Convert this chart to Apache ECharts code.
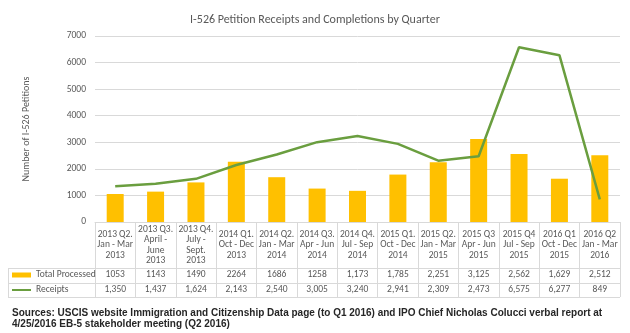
<!DOCTYPE html>
<html>
<head>
<meta charset="utf-8">
<script src="https://cdn.jsdelivr.net/npm/echarts@6/dist/echarts.min.js"></script>
<style>
  html, body { margin: 0; padding: 0; background: #fff; }
  #chart { width: 630px; height: 333px; }
</style>
</head>
<body>
<div id="chart"></div>
<script>
// Quarter headings shown in the data table under the plot
const quarters = [
  '2013 Q2.\nJan - Mar\n2013',
  '2013 Q3.\nApril -\nJune\n2013',
  '2013 Q4.\nJuly -\nSept.\n2013',
  '2014 Q1.\nOct - Dec\n2013',
  '2014 Q2.\nJan - Mar\n2014',
  '2014 Q3.\nApr - Jun\n2014',
  '2014 Q4.\nJul - Sep\n2014',
  '2015 Q1.\nOct - Dec\n2014',
  '2015 Q2.\nJan - Mar\n2015',
  '2015 Q3\nApr - Jun\n2015',
  '2015 Q4\nJul - Sep\n2015',
  '2016 Q1\nOct - Dec\n2015',
  '2016 Q2\nJan - Mar\n2016'
];

// Table cells as printed; the plotted values are parsed from them
const processedText = ['1053', '1143', '1490', '2264', '1686', '1258', '1,173', '1,785', '2,251', '3,125', '2,562', '1,629', '2,512'];
const receiptsText = ['1,350', '1,437', '1,624', '2,143', '2,540', '3,005', '3,240', '2,941', '2,309', '2,473', '6,575', '6,277', '849'];

const toNumber = s => Number(s.replace(/,/g, ''));
const totalProcessed = processedText.map(toNumber);
const receipts = receiptsText.map(toNumber);

const yTicks = { min: 0, max: 7000, interval: 1000 };

const GRID_L = 95, GRID_R = 10, GRID_T = 36, GRID_B = 111;
const TEXT = '#595959';
const RULE = '#d9d9d9';
const BODY = 'Carlito, Calibri, "Liberation Sans", sans-serif';
const tableFont = { fontFamily: BODY, fontSize: 9.5, color: TEXT };

const chart = echarts.init(document.getElementById('chart'), null, { renderer: 'canvas' });

chart.setOption({
  animation: false,
  backgroundColor: '#fff',
  title: [
    {
      text: 'I-526 Petition Receipts and Completions by Quarter',
      left: 'center',
      top: 9,
      textStyle: { fontFamily: BODY, fontSize: 12, fontWeight: 'normal', color: TEXT }
    },
    {
      text: 'Sources: USCIS website Immigration and Citizenship Data page (to Q1 2016) and IPO Chief Nicholas Colucci verbal report at\n4/25/2016 EB-5 stakeholder meeting (Q2 2016)',
      left: 7,
      top: 302,
      textStyle: { fontFamily: 'Liberation Sans, Arial, sans-serif', fontSize: 10, fontWeight: 'bold', color: '#262626', lineHeight: 11.5 }
    }
  ],
  legend: [
    {
      data: [{ name: 'Total Processed', icon: 'rect' }],
      left: 12, top: 270, padding: 0,
      itemWidth: 19, itemHeight: 5, itemGap: 4,
      selectedMode: false,
      textStyle: { fontFamily: BODY, fontSize: 9.5, color: TEXT }
    },
    {
      data: [{ name: 'Receipts', icon: 'rect' }],
      left: 12, top: 285, padding: 0,
      itemWidth: 19, itemHeight: 2, itemGap: 4,
      selectedMode: false,
      textStyle: { fontFamily: BODY, fontSize: 9.5, color: TEXT }
    }
  ],
  grid: { left: GRID_L, right: GRID_R, top: GRID_T, bottom: GRID_B, containLabel: false },
  xAxis: [
    {
      // quarter headings; boundary ticks double as the table's column rules
      type: 'category',
      data: quarters,
      position: 'bottom',
      axisLine: { show: true, lineStyle: { color: RULE, width: 1 } },
      axisTick: { show: true, length: 75, alignWithLabel: false, lineStyle: { color: RULE, width: 1 } },
      axisLabel: { ...tableFont, interval: 0, margin: 23, verticalAlign: 'middle', lineHeight: 10.5, align: 'center' }
    },
    {
      type: 'category',
      data: processedText,
      position: 'bottom',
      axisLine: { show: false },
      axisTick: { show: false },
      axisLabel: { ...tableFont, interval: 0, margin: 53, verticalAlign: 'middle' }
    },
    {
      type: 'category',
      data: receiptsText,
      position: 'bottom',
      axisLine: { show: false },
      axisTick: { show: false },
      axisLabel: { ...tableFont, interval: 0, margin: 68, verticalAlign: 'middle' }
    }
  ],
  yAxis: {
    type: 'value',
    min: yTicks.min,
    max: yTicks.max,
    interval: yTicks.interval,
    name: 'Number of I-526 Petitions',
    nameLocation: 'middle',
    nameGap: 64,
    nameRotate: 90,
    nameTextStyle: { fontFamily: BODY, fontSize: 10, color: TEXT },
    axisLine: { show: false },
    axisTick: { show: false },
    axisLabel: { fontFamily: BODY, fontSize: 9.5, color: TEXT, margin: 9, formatter: v => String(v) },
    splitLine: { lineStyle: { color: RULE, width: 1 } }
  },
  series: [
    {
      name: 'Total Processed',
      type: 'bar',
      data: totalProcessed,
      barWidth: 17,
      itemStyle: { color: '#FFC000' }
    },
    {
      name: 'Receipts',
      type: 'line',
      data: receipts,
      symbol: 'none',
      lineStyle: { color: '#6a9e3f', width: 2.5 },
      itemStyle: { color: '#6a9e3f' }
    }
  ],
  graphic: [
    // row rules of the data table, extended under the legend column
    { type: 'line', shape: { x1: 8, y1: 268.5, x2: 620, y2: 268.5 }, style: { stroke: RULE, lineWidth: 1 }, silent: true },
    { type: 'line', shape: { x1: 8, y1: 283.5, x2: 620, y2: 283.5 }, style: { stroke: RULE, lineWidth: 1 }, silent: true },
    { type: 'line', shape: { x1: 8, y1: 297.5, x2: 620, y2: 297.5 }, style: { stroke: RULE, lineWidth: 1 }, silent: true },
    { type: 'line', shape: { x1: 8.5, y1: 268, x2: 8.5, y2: 298 }, style: { stroke: RULE, lineWidth: 1 }, silent: true }
  ]
});
</script>
</body>
</html>
